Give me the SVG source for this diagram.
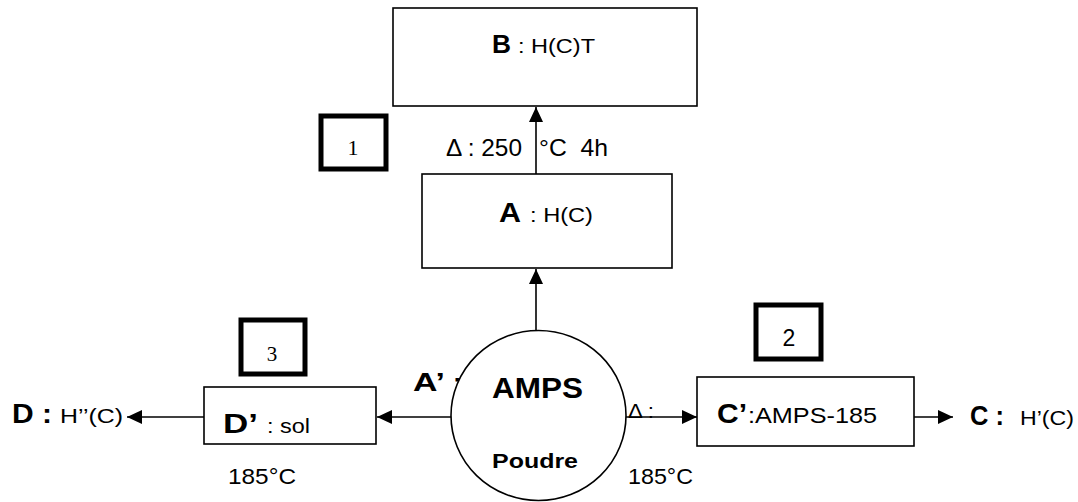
<svg xmlns="http://www.w3.org/2000/svg" width="1078" height="502" viewBox="0 0 1078 502">
<style>
.box{fill:#fff;stroke:#000;stroke-width:1.6}
.tag{fill:#fff;stroke:#000;stroke-width:5}
.ln{stroke:#000;stroke-width:1.6;fill:none;marker-end:url(#ah)}
text{font-family:"Liberation Sans",Arial,sans-serif;fill:#000}
.b{font-weight:bold}
.serif{font-family:"Liberation Serif","Times New Roman",serif}
</style>
<defs>
<marker id="ah" markerUnits="userSpaceOnUse" markerWidth="16" markerHeight="14" refX="15" refY="7" orient="auto">
<path d="M0,0 L15,7 L0,14 Z" fill="#000"/>
</marker>
</defs>
<rect width="1078" height="502" fill="#fff"/>

<g id="labels-behind">
<text y="391" class="b" font-size="26"><tspan x="413" textLength="32" lengthAdjust="spacingAndGlyphs">A’</tspan><tspan x="453">:</tspan></text>
</g>

<g id="connectors">
<line class="ln" x1="536" y1="174" x2="536" y2="107"/>
<line class="ln" x1="536" y1="331" x2="536" y2="269"/>
<line class="ln" x1="451" y1="417" x2="377" y2="417"/>
<line class="ln" x1="204" y1="417" x2="127" y2="417"/>
<line class="ln" x1="626" y1="417" x2="697" y2="417"/>
<line class="ln" x1="914" y1="417" x2="953" y2="417"/>
</g>

<g id="node-B">
<rect class="box" x="393" y="8" width="304" height="98"/>
<text y="53"><tspan x="492" class="b" font-size="25" textLength="19" lengthAdjust="spacingAndGlyphs">B</tspan><tspan x="518" font-size="21" textLength="77" lengthAdjust="spacingAndGlyphs">: H(C)T</tspan></text>
</g>

<g id="tag-1">
<rect class="tag" x="321" y="116" width="65" height="53"/>
<text x="353" y="155" font-size="22" class="serif" text-anchor="middle">1</text>
</g>

<g id="edge-label-AB">
<text x="446" y="156" font-size="24" textLength="76" lengthAdjust="spacingAndGlyphs">Δ : 250</text>
<text x="539" y="156" font-size="24" xml:space="preserve" textLength="69" lengthAdjust="spacingAndGlyphs">°C  4h</text>
</g>

<g id="node-A">
<rect class="box" x="422" y="174" width="250" height="94"/>
<text y="222"><tspan x="499" class="b" font-size="27" textLength="22" lengthAdjust="spacingAndGlyphs">A</tspan><tspan x="530" font-size="21" textLength="63" lengthAdjust="spacingAndGlyphs">: H(C)</tspan></text>
</g>

<g id="node-AMPS">
<ellipse cx="538.5" cy="415.5" rx="87.5" ry="85" fill="#fff" stroke="#000" stroke-width="1.6"/>
<text x="492" y="398" class="b" font-size="29" textLength="91" lengthAdjust="spacingAndGlyphs">AMPS</text>
<text x="492" y="468" class="b" font-size="21" textLength="86" lengthAdjust="spacingAndGlyphs">Poudre</text>
</g>

<g id="edge-label-right">
<text x="628" y="418" font-size="21" textLength="26" lengthAdjust="spacingAndGlyphs">Δ :</text>
<text x="628" y="484" font-size="22" textLength="65" lengthAdjust="spacingAndGlyphs">185°C</text>
</g>

<g id="tag-2">
<rect class="tag" x="756" y="305" width="65" height="54"/>
<text x="789" y="346" font-size="23" text-anchor="middle">2</text>
</g>

<g id="node-Cprime">
<rect class="box" x="697" y="377" width="217" height="69"/>
<text y="423"><tspan x="717" class="b" font-size="27" textLength="30" lengthAdjust="spacingAndGlyphs">C’</tspan><tspan x="748" font-size="22" textLength="129" lengthAdjust="spacingAndGlyphs">:AMPS-185</tspan></text>
</g>

<g id="node-C">
<text y="425"><tspan x="970" class="b" font-size="27" textLength="34" lengthAdjust="spacingAndGlyphs">C :</tspan><tspan x="1020" font-size="20" textLength="54" lengthAdjust="spacingAndGlyphs">H’(C)</tspan></text>
</g>

<g id="tag-3">
<rect class="tag" x="241" y="320" width="64" height="54"/>
<text x="272" y="361" font-size="21" class="serif" text-anchor="middle">3</text>
</g>

<g id="node-Dprime">
<rect class="box" x="204" y="387" width="172" height="57"/>
<text y="433"><tspan x="223" class="b" font-size="27" textLength="35" lengthAdjust="spacingAndGlyphs">D’</tspan><tspan x="267" font-size="21" textLength="43" lengthAdjust="spacingAndGlyphs">: sol</tspan></text>
<text x="228" y="484" font-size="22" textLength="68" lengthAdjust="spacingAndGlyphs">185°C</text>
</g>

<g id="node-D">
<text y="423"><tspan x="12" class="b" font-size="27" textLength="40" lengthAdjust="spacingAndGlyphs">D :</tspan><tspan x="60" font-size="20" textLength="63" lengthAdjust="spacingAndGlyphs">H’’(C)</tspan></text>
</g>
</svg>
